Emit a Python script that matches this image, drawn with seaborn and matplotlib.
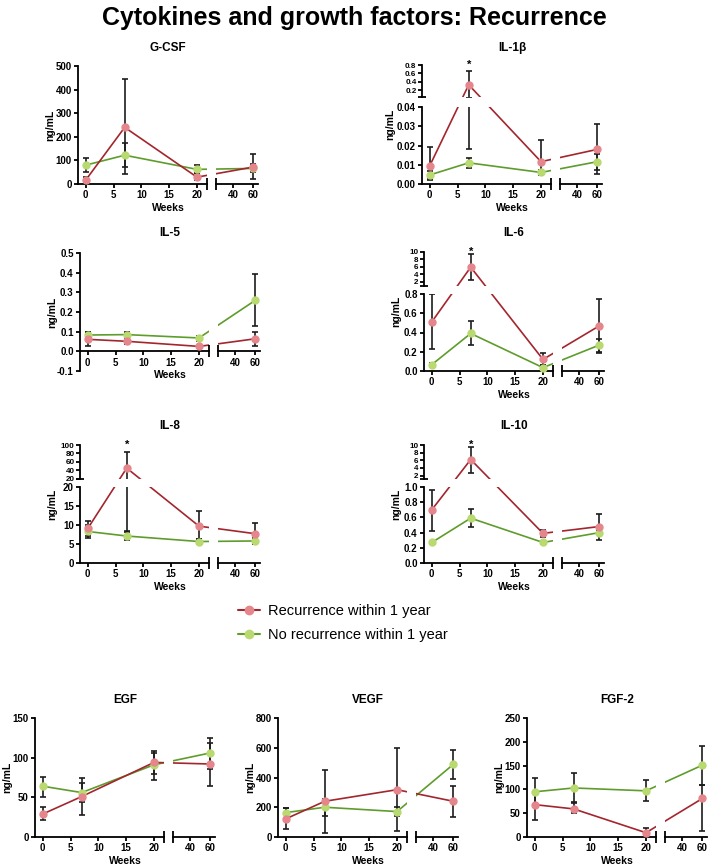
import matplotlib
matplotlib.use("Agg")
import matplotlib.pyplot as plt
from matplotlib.patches import ConnectionPatch, Rectangle
from matplotlib.lines import Line2D
from matplotlib.ticker import FormatStrFormatter
import seaborn as sns

sns.set_theme(style="ticks")
plt.rcParams['font.family'] = ['Liberation Sans', 'DejaVu Sans']
plt.rcParams['font.weight'] = 'bold'
for k in ['text.color', 'axes.labelcolor', 'xtick.color', 'ytick.color']:
    plt.rcParams[k] = 'black'

# sampling weeks
weeks = [0, 7, 20, 60]

# values: mean, lower and upper error bar ends
gcsf_rec = [17, 240, 29, 72]
gcsf_rec_lo = [2, 41, 17, 20]
gcsf_rec_hi = [31, 444, 45, 126]
gcsf_non = [80, 122, 62, 66]
gcsf_non_lo = [49, 73, 48, 52]
gcsf_non_hi = [112, 174, 79, 86]

il1b_rec = [0.0095, 0.33, 0.0116, 0.018]
il1b_rec_lo = [0.0024, 0.0184, 0.006, 0.0075]
il1b_rec_hi = [0.019, 0.647, 0.0231, 0.0314]
il1b_non = [0.0047, 0.011, 0.006, 0.0116]
il1b_non_lo = [0.002, 0.0085, 0.0045, 0.005]
il1b_non_hi = [0.0065, 0.0135, 0.0075, 0.0155]

il5_rec = [0.061, 0.051, 0.025, 0.064]
il5_rec_lo = [0.025, 0.036, 0.02, 0.025]
il5_rec_hi = [0.098, 0.065, 0.03, 0.098]
il5_non = [0.083, 0.085, 0.068, 0.26]
il5_non_lo = [0.07, 0.075, 0.054, 0.127]
il5_non_hi = [0.098, 0.097, 0.076, 0.395]

il6_rec = [0.51, 5.9, 0.12, 0.47]
il6_rec_lo = [0.23, 2.4, 0.06, 0.2]
il6_rec_hi = [0.8, 9.5, 0.19, 0.75]
il6_non = [0.066, 0.39, 0.035, 0.27]
il6_non_lo = [0.05, 0.27, 0.01, 0.19]
il6_non_hi = [0.08, 0.52, 0.06, 0.335]

il8_rec = [9.1, 45, 9.7, 7.7]
il8_rec_lo = [6.7, 8.1, 6.3, 5.0]
il8_rec_hi = [11.0, 83, 13.7, 10.4]
il8_non = [8.3, 7.1, 5.65, 5.8]
il8_non_lo = [7.1, 6.1, 5.0, 5.0]
il8_non_hi = [10.0, 8.3, 6.2, 6.6]

il10_rec = [0.70, 6.2, 0.39, 0.48]
il10_rec_lo = [0.42, 2.8, 0.34, 0.43]
il10_rec_hi = [0.965, 9.5, 0.44, 0.65]
il10_non = [0.27, 0.59, 0.27, 0.40]
il10_non_lo = [0.25, 0.47, 0.25, 0.30]
il10_non_hi = [0.29, 0.71, 0.29, 0.44]

egf_rec = [29, 51, 94, 92]
egf_rec_lo = [21, 28, 79, 64]
egf_rec_hi = [38, 74, 109, 119]
egf_non = [64, 56, 91, 106]
egf_non_lo = [51, 44, 72, 86]
egf_non_hi = [76, 68, 106, 125]

vegf_rec = [122, 240, 318, 240]
vegf_rec_lo = [56, 29, 40, 136]
vegf_rec_hi = [195, 449, 596, 340]
vegf_non = [164, 200, 171, 489]
vegf_non_lo = [130, 144, 140, 389]
vegf_non_hi = [195, 253, 200, 582]

fgf2_rec = [68, 59, 9, 81]
fgf2_rec_lo = [35, 50, 3, 12]
fgf2_rec_hi = [95, 71, 19, 109]
fgf2_non = [95, 103, 97, 151]
fgf2_non_lo = [68, 74, 76, 110]
fgf2_non_hi = [123, 134, 120, 191]

legend_labels = ['Recurrence within 1 year', 'No recurrence within 1 year']

RED_LINE, RED_MK = '#a3262e', '#e5868c'
GREEN_LINE, GREEN_MK = '#5e9c2c', '#b8da70'
ERR = '#1c1c1c'

W, H = 708, 867
fig = plt.figure(figsize=(W / 100, H / 100), dpi=100)

XL = (-1.4, 21.8)
XR = (23, 64.5)
LW_PX, GAP_PX, RW_PX = 129, 9, 42


def draw_panel(name, sx, top, bot, title_y, rows, rec, non, xaxis_y=None, star=False,
               weeks_y=None, ylab_dx=28):
    # rows[0] is the lower y segment, rows[1] (optional) the upper one
    axes = {}
    for r, row in enumerate(rows):
        for c in ([0, 1] if r == 0 else [0]):
            x0 = sx if c == 0 else sx + LW_PX + GAP_PX
            w = LW_PX if c == 0 else RW_PX
            ax = fig.add_axes([x0 / W, 1 - row['pbot'] / H, w / W, (row['pbot'] - row['ptop']) / H])
            ax.patch.set_visible(False)
            ax.set_xlim(XL if c == 0 else XR)
            ax.set_ylim(row['ylim'])
            ax.spines[['top', 'right']].set_visible(False)
            for s in ax.spines.values():
                s.set_linewidth(1.3)
                s.set_color('black')
            ax.tick_params(length=3, width=1.3, labelsize=7, pad=1.5, color='black')
            ax.set_xticks([0, 5, 10, 15, 20] if c == 0 else [40, 60])
            ax.set_yticks(row['ticks'])
            ax.yaxis.set_major_formatter(FormatStrFormatter(row['fmt']))
            if c == 1:
                ax.spines['left'].set_visible(False)
                ax.tick_params(axis='y', left=False, labelleft=False)
            if r == 1:
                ax.spines['bottom'].set_visible(False)
                ax.tick_params(axis='x', bottom=False, labelbottom=False)
                ax.tick_params(axis='y', labelsize=5.8, pad=1)
                ax.plot([0], [0], marker='_', ms=6, mew=1.3, color='black',
                        transform=ax.transAxes, clip_on=False)
                if star:
                    ax.text(7, 1.0, '*', transform=ax.get_xaxis_transform(),
                            ha='center', va='center', fontsize=8)
            else:
                ybase = row['ylim'][0] if xaxis_y is None else xaxis_y
                if xaxis_y is not None:
                    ax.spines['bottom'].set_position(('data', xaxis_y))
                ax.plot([1 - c], [ybase], marker='|', ms=8, mew=1.3, color='black',
                        transform=ax.get_yaxis_transform(), clip_on=False)
            axes[(c, r)] = ax

    def locate(x, y):
        c = 0 if x <= XL[1] else 1
        r = 1 if len(rows) > 1 and y > rows[0]['ylim'][1] else 0
        return axes[(c, r)]

    for (vals, lo, hi), lc, mc in [(non, GREEN_LINE, GREEN_MK), (rec, RED_LINE, RED_MK)]:
        for i in range(len(weeks) - 1):
            a1 = locate(weeks[i], vals[i])
            a2 = locate(weeks[i + 1], vals[i + 1])
            if a1 is a2:
                sns.lineplot(x=weeks[i:i + 2], y=vals[i:i + 2], ax=a1, color=lc, lw=1.2, zorder=2)
            else:
                con = ConnectionPatch(xyA=(weeks[i], vals[i]), coordsA='data', axesA=a1,
                                      xyB=(weeks[i + 1], vals[i + 1]), coordsB='data', axesB=a2,
                                      color=lc, lw=1.2, zorder=-1)
                fig.add_artist(con)
        for x, y, l, h in zip(weeks, vals, lo, hi):
            c = 0 if x <= XL[1] else 1
            for (cc, rr), ax in axes.items():
                ylo, yhi = rows[rr]['ylim']
                # only draw the bar in the segments that it actually reaches
                if cc == c and h > ylo and l < yhi:
                    ax.errorbar([x], [y], yerr=[[y - l], [h - y]], fmt='none', ecolor=ERR,
                                elinewidth=1.2, capsize=2.5, capthick=1.2, zorder=3)
            locate(x, y).plot([x], [y], 'o', color=mc, mec=mc, ms=5, zorder=4, clip_on=False)

    # white gaps at the axis breaks
    fig.add_artist(Rectangle(((sx + LW_PX) / W, 1 - bot / H), GAP_PX / W, (bot - top) / H,
                             transform=fig.transFigure, facecolor='white', edgecolor='none', zorder=-0.5))
    if len(rows) > 1:
        g0, g1 = rows[1]['pbot'], rows[0]['ptop']
        fig.add_artist(Rectangle(((sx - 4) / W, 1 - g1 / H), (LW_PX + GAP_PX + RW_PX + 8) / W, (g1 - g0) / H,
                                 transform=fig.transFigure, facecolor='white', edgecolor='none', zorder=-0.5))

    cx = (sx + (LW_PX + GAP_PX + RW_PX) / 2) / W
    fig.text(cx, 1 - title_y / H, name, ha='center', va='center', fontsize=8.5)
    wy = bot + 24 if weeks_y is None else weeks_y
    fig.text(cx, 1 - wy / H, 'Weeks', ha='center', va='center', fontsize=7.5)
    fig.text((sx - ylab_dx) / W, 1 - (top + bot) / 2 / H, 'ng/mL', ha='center', va='center',
             rotation=90, fontsize=7.5)


def single(ylim, ticks, fmt, top, bot):
    return [dict(ylim=ylim, ticks=ticks, fmt=fmt, ptop=top, pbot=bot)]


def split(lo_lim, lo_ticks, lo_fmt, hi_lim, hi_ticks, hi_fmt, top, mid_hi, mid_lo, bot):
    return [dict(ylim=lo_lim, ticks=lo_ticks, fmt=lo_fmt, ptop=mid_lo, pbot=bot),
            dict(ylim=hi_lim, ticks=hi_ticks, fmt=hi_fmt, ptop=top, pbot=mid_hi)]


draw_panel('G-CSF', 78, 66, 184, 48,
           single((0, 500), [0, 100, 200, 300, 400, 500], '%d', 66, 184),
           (gcsf_rec, gcsf_rec_lo, gcsf_rec_hi), (gcsf_non, gcsf_non_lo, gcsf_non_hi))
draw_panel('IL-1β', 422, 65, 184, 48,
           split((0, 0.04), [0, 0.01, 0.02, 0.03, 0.04], '%.2f',
                 (0.04, 0.8), [0.2, 0.4, 0.6, 0.8], '%.1f', 65, 97, 107, 184),
           (il1b_rec, il1b_rec_lo, il1b_rec_hi), (il1b_non, il1b_non_lo, il1b_non_hi), star=True,
           ylab_dx=32)
draw_panel('IL-5', 80, 253, 371, 233,
           single((-0.1, 0.5), [-0.1, 0, 0.1, 0.2, 0.3, 0.4, 0.5], '%.1f', 253, 371),
           (il5_rec, il5_rec_lo, il5_rec_hi), (il5_non, il5_non_lo, il5_non_hi), xaxis_y=0, weeks_y=375)
draw_panel('IL-6', 424, 252, 371, 233,
           split((0, 0.8), [0, 0.2, 0.4, 0.6, 0.8], '%.1f',
                 (0.8, 10), [2, 4, 6, 8, 10], '%d', 252, 286, 294, 371),
           (il6_rec, il6_rec_lo, il6_rec_hi), (il6_non, il6_non_lo, il6_non_hi), star=True)
draw_panel('IL-8', 80, 445, 563, 426,
           split((0, 20), [0, 5, 10, 15, 20], '%d',
                 (19, 100), [20, 40, 60, 80, 100], '%d', 445, 479, 487, 563),
           (il8_rec, il8_rec_lo, il8_rec_hi), (il8_non, il8_non_lo, il8_non_hi), star=True)
draw_panel('IL-10', 424, 445, 563, 426,
           split((0, 1.0), [0, 0.2, 0.4, 0.6, 0.8, 1.0], '%.1f',
                 (1.1, 10), [2, 4, 6, 8, 10], '%d', 445, 479, 487, 563),
           (il10_rec, il10_rec_lo, il10_rec_hi), (il10_non, il10_non_lo, il10_non_hi), star=True)
draw_panel('EGF', 35, 718, 837, 700,
           single((0, 150), [0, 50, 100, 150], '%d', 718, 837),
           (egf_rec, egf_rec_lo, egf_rec_hi), (egf_non, egf_non_lo, egf_non_hi))
draw_panel('VEGF', 278, 718, 837, 700,
           single((0, 800), [0, 200, 400, 600, 800], '%d', 718, 837),
           (vegf_rec, vegf_rec_lo, vegf_rec_hi), (vegf_non, vegf_non_lo, vegf_non_hi))
draw_panel('FGF-2', 527, 718, 837, 700,
           single((0, 250), [0, 50, 100, 150, 200, 250], '%d', 718, 837),
           (fgf2_rec, fgf2_rec_lo, fgf2_rec_hi), (fgf2_non, fgf2_non_lo, fgf2_non_hi))

fig.text(0.5, 1 - 18 / H, 'Cytokines and growth factors: Recurrence', ha='center', va='center',
         fontsize=18)

handles = [Line2D([], [], color=RED_LINE, lw=1.5, marker='o', mfc=RED_MK, mec=RED_MK, ms=6),
           Line2D([], [], color=GREEN_LINE, lw=1.5, marker='o', mfc=GREEN_MK, mec=GREEN_MK, ms=6)]
fig.legend(handles, legend_labels, loc='upper left', bbox_to_anchor=(238 / W, 1 - 604 / H),
           frameon=False, borderpad=0, borderaxespad=0, handlelength=1.5, handletextpad=0.55,
           labelspacing=0.7, prop=dict(size=10.5, weight='normal'))

fig.savefig('out.png', dpi=100, facecolor='white')
